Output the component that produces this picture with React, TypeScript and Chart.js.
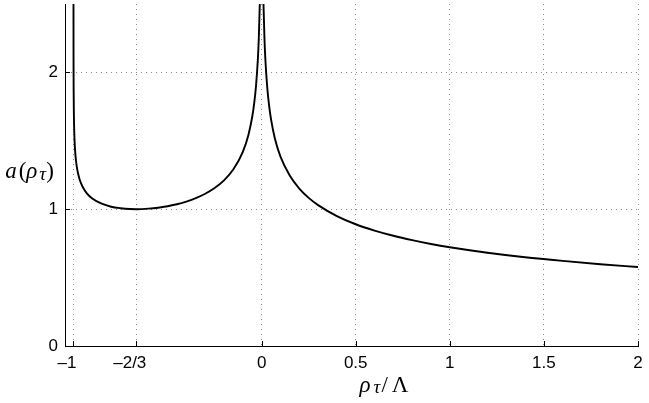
import React, { useEffect, useRef } from "react";
import { Chart, registerables } from "chart.js";

Chart.register(...registerables);

// Tick positions and labels
const xTickValues = [-1, -2 / 3, 0, 0.5, 1, 1.5, 2];
const xTickLabels = ["\u20131\u2007\u2009", "\u20132/3\u2007\u2009", "0", "0.5", "1", "1.5", "2"];
const yTickValues = [0, 1, 2];
const yTickLabels = ["0", "1", "2"];

// Branch between -1 and 0 (rho_tau / Lambda, a(rho_tau))
const rhoNeg = [
  -0.99995, -0.9999, -0.9995, -0.999, -0.998, -0.995, -0.99, -0.985, -0.98, -0.97,
  -0.96, -0.95, -0.93, -0.9, -0.85, -0.8, -0.75, -0.7, -0.6667, -0.6, -0.55, -0.5,
  -0.45, -0.4, -0.35, -0.3, -0.25, -0.2, -0.15, -0.1, -0.07, -0.05, -0.04, -0.03,
  -0.02, -0.015, -0.01, -0.008,
];
const aNeg = [
  2.716, 2.491, 2.037, 1.868, 1.714, 1.529, 1.404, 1.337, 1.291, 1.23,
  1.19, 1.16, 1.118, 1.078, 1.04, 1.018, 1.007, 1.001, 1.0, 1.004, 1.011, 1.022,
  1.036, 1.056, 1.081, 1.113, 1.155, 1.211, 1.292, 1.419, 1.545, 1.676, 1.77, 1.9,
  2.1, 2.255, 2.494, 2.636,
];

// Branch for rho > 0
const rhoPos = [
  0.008, 0.01, 0.015, 0.02, 0.03, 0.04, 0.05, 0.07, 0.1, 0.15, 0.2, 0.25, 0.3, 0.4,
  0.5, 0.6, 0.7, 0.8, 0.9, 1.0, 1.2, 1.4, 1.6, 1.8, 2.0,
];
const aPos = [
  2.631, 2.488, 2.247, 2.089, 1.886, 1.753, 1.656, 1.518, 1.384, 1.244, 1.151, 1.083,
  1.03, 0.95, 0.89, 0.844, 0.806, 0.774, 0.746, 0.722, 0.682, 0.649, 0.622, 0.598,
  0.577,
];

const SERIF = '"Liberation Serif", "DejaVu Serif", serif';
const SANS = '"Liberation Sans", Arial, Helvetica, sans-serif';

type Run = { text: string; font: string; dy?: number; gap?: number };

function drawRuns(ctx: CanvasRenderingContext2D, cx: number, baseline: number, runs: Run[]) {
  let total = 0;
  runs.forEach((r) => {
    ctx.font = r.font;
    total += (r.gap || 0) + ctx.measureText(r.text).width;
  });
  let x = cx - total / 2;
  ctx.textAlign = "left";
  ctx.textBaseline = "alphabetic";
  runs.forEach((r) => {
    ctx.font = r.font;
    x += r.gap || 0;
    ctx.fillText(r.text, x, baseline + (r.dy || 0));
    x += ctx.measureText(r.text).width;
  });
}

export default function App() {
  const ref = useRef<HTMLCanvasElement>(null);

  useEffect(() => {
    const canvas = ref.current;
    if (!canvas) return;

    const decor = {
      id: "decor",
      afterDatasetsDraw(chart: any) {
        const ctx: CanvasRenderingContext2D = chart.ctx;
        const area = chart.chartArea;
        const xs = chart.scales.x;
        const ys = chart.scales.y;
        ctx.save();
        ctx.strokeStyle = "#000";
        ctx.lineWidth = 1;
        ctx.beginPath();
        xTickValues.forEach((v) => {
          const px = Math.round(xs.getPixelForValue(v)) + 0.5;
          ctx.moveTo(px, area.bottom);
          ctx.lineTo(px, area.bottom - 5);
        });
        yTickValues.forEach((v) => {
          const py = Math.round(ys.getPixelForValue(v)) + 0.5;
          ctx.moveTo(area.left, py);
          ctx.lineTo(area.left + 5, py);
        });
        ctx.stroke();

        ctx.fillStyle = "#000";
        const big = `italic 23px ${SERIF}`;
        const up = `23px ${SERIF}`;
        const sub = `italic 19px ${SERIF}`;
        // y-axis title a(rho_tau)
        drawRuns(ctx, 29.5, 178, [
          { text: "a", font: big },
          { text: "(", font: up, gap: 2 },
          { text: "\u03C1", font: big },
          { text: "\u03C4", font: sub, dy: 2, gap: 2 },
          { text: ")", font: up, gap: 0 },
        ]);
        // x-axis title rho_tau / Lambda
        drawRuns(ctx, 384, 392, [
          { text: "\u03C1", font: big },
          { text: "\u03C4", font: sub, dy: 1, gap: 3 },
          { text: "/", font: up, gap: 1 },
          { text: "\u039B", font: up, gap: 4 },
        ]);
        ctx.restore();
      },
    };

    const line = {
      showLine: true,
      borderColor: "#000",
      borderWidth: 1.9,
      pointRadius: 0,
      cubicInterpolationMode: "monotone" as const,
    };

    const chart = new Chart(canvas, {
      type: "scatter",
      data: {
        datasets: [
          { ...line, data: rhoNeg.map((x, i) => ({ x, y: aNeg[i] })) },
          { ...line, data: rhoPos.map((x, i) => ({ x, y: aPos[i] })) },
        ],
      },
      options: {
        animation: false,
        responsive: false,
        devicePixelRatio: 1,
        layout: { padding: { left: 0, right: 11, top: 4, bottom: 0 } },
        plugins: {
          legend: { display: false },
          tooltip: { enabled: false },
          title: { display: false },
        },
        scales: {
          x: {
            type: "linear",
            min: -1.045,
            max: 2,
            afterBuildTicks: (s: any) => {
              s.ticks = xTickValues.map((v) => ({ value: v }));
            },
            afterFit: (s: any) => {
              s.height = 57;
              s.paddingLeft = 0;
              s.paddingRight = 0;
            },
            ticks: {
              autoSkip: false,
              maxRotation: 0,
              padding: 7,
              color: "#000",
              font: { family: SANS, size: 17 },
              callback: (v: any) => {
                const i = xTickValues.findIndex((t) => Math.abs(t - Number(v)) < 1e-6);
                return i >= 0 ? xTickLabels[i] : "";
              },
            },
            grid: { color: "#8a8a8a", lineWidth: 1, drawTicks: false },
            border: { display: true, color: "#000", width: 1, dash: [1, 4] },
          },
          y: {
            type: "linear",
            min: 0,
            max: 2.5,
            afterBuildTicks: (s: any) => {
              s.ticks = yTickValues.map((v) => ({ value: v }));
            },
            afterFit: (s: any) => {
              s.width = 65;
              s.paddingTop = 0;
              s.paddingBottom = 0;
            },
            ticks: {
              autoSkip: false,
              padding: 7,
              color: "#000",
              font: { family: SANS, size: 17 },
              callback: (v: any) => {
                const i = yTickValues.findIndex((t) => Math.abs(t - Number(v)) < 1e-6);
                return i >= 0 ? yTickLabels[i] : "";
              },
            },
            grid: { color: "#8a8a8a", lineWidth: 1, drawTicks: false },
            border: { display: true, color: "#000", width: 1, dash: [1, 4] },
          },
        },
      },
      plugins: [decor],
    });

    return () => chart.destroy();
  }, []);

  return (
    <div style={{ position: "absolute", left: 0, top: 0, width: 649, height: 403, background: "#fff" }}>
      <canvas ref={ref} width={649} height={403} />
    </div>
  );
}
